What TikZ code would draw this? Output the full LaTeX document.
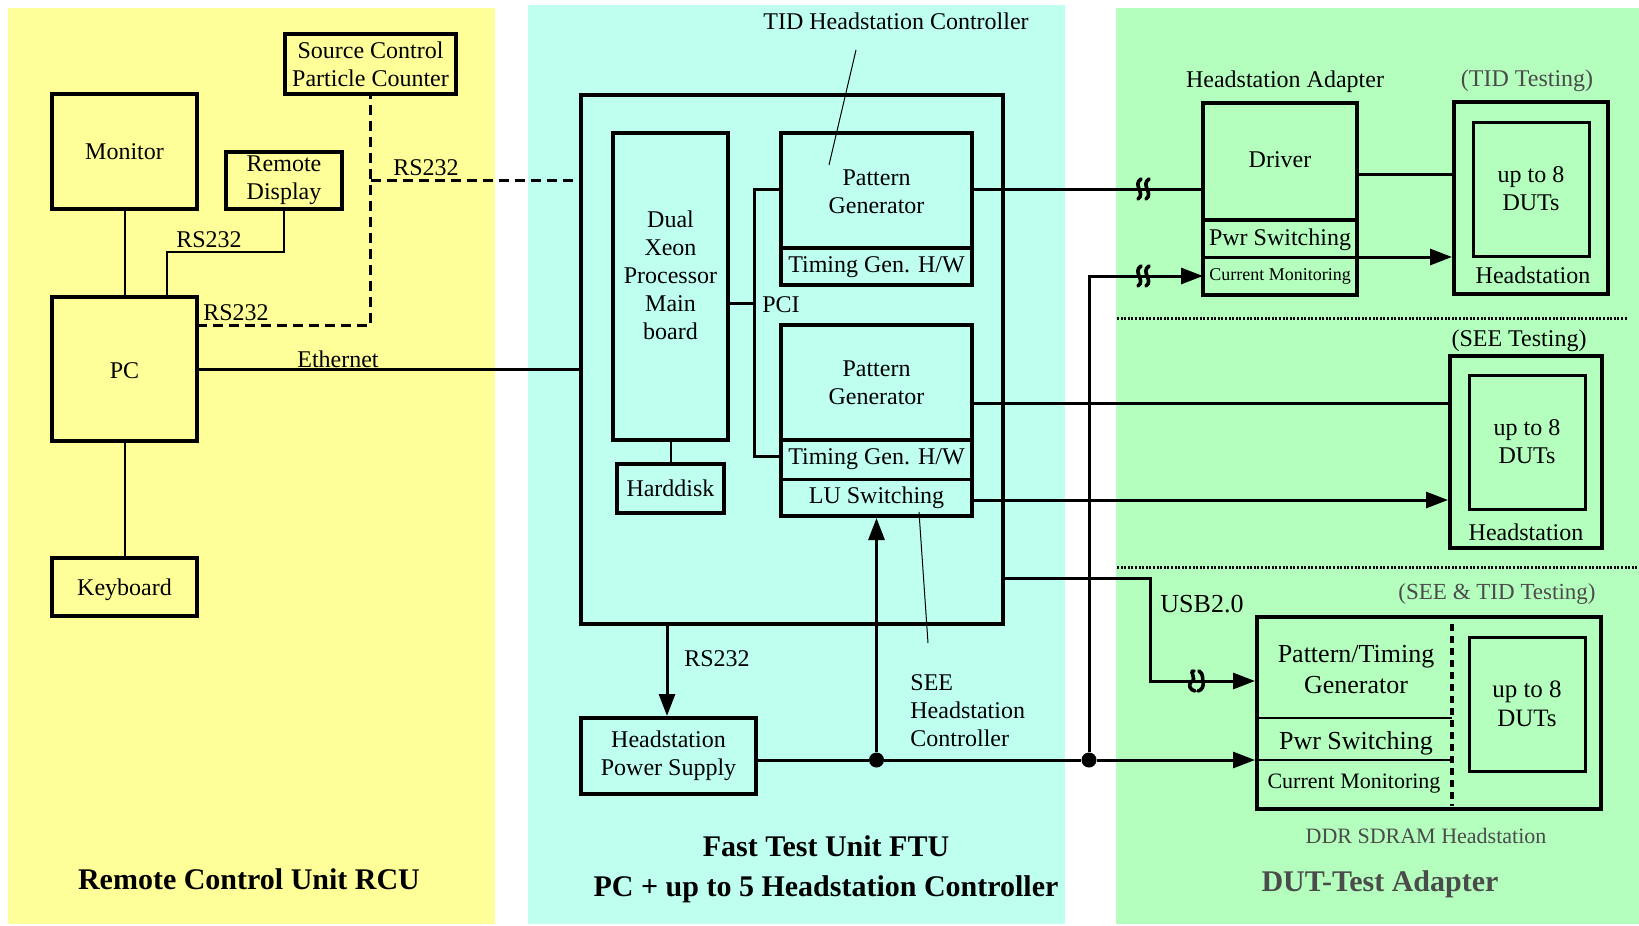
\documentclass[tikz,border=0pt]{standalone}
\usepackage{fontspec}
\setmainfont{Liberation Serif}
\usetikzlibrary{arrows.meta,fit}
\definecolor{rcuyellow}{RGB}{255,255,153}
\definecolor{ftucyan}{RGB}{190,255,240}
\definecolor{dutgreen}{RGB}{180,255,190}
\definecolor{graytext}{RGB}{75,75,75}
\tikzset{
  fs/.style args={#1/#2}{font=\fontsize{#1}{#2}\selectfont},
  blk/.style={draw, line width=2pt, inner sep=0pt},
  inbox/.style={draw, line width=1.5pt, inner sep=0pt},
  lbl/.style={inner sep=0pt, align=center, font=\fontsize{12}{14}\selectfont},
  title/.style={inner sep=0pt, align=center, font=\fontsize{15}{20}\selectfont\bfseries},
  wire/.style={line width=1.5pt},
  thinwire/.style={line width=1pt},
  leader/.style={line width=0.5pt},
  serial/.style={line width=1.5pt, dash pattern=on 5pt off 3pt},
  tip/.style={-{Triangle[length=11pt,width=8pt]}},
  junction/.style={circle, fill, inner sep=0pt, minimum size=7.5pt},
  sep/.style={line width=1.5pt, dash pattern=on 1pt off 0.8pt},
  brk/.pic={
    \draw[line width=1.8pt, line cap=round] (-2,-10) .. controls (-11,-4) and (3,4) .. (-5,10);
    \draw[line width=1.8pt, line cap=round] (6,-10) .. controls (-3,-4) and (11,4) .. (3,10);
  },
  usbbrk/.pic={
    \draw[line width=1.8pt, line cap=round] (-2,-10) .. controls (-8,-10) and (2,-2) .. (-5,1) .. controls (-8,4) and (-6,9) .. (-1,10);
    \draw[line width=1.8pt, line cap=round] (3,-10) .. controls (8,-7) and (6,-2) .. (7,1) .. controls (8,5) and (6,9) .. (2,10);
  }
}
\begin{document}
\begin{tikzpicture}[x=0.5pt,y=-0.5pt]
\fill[white] (0,0) rectangle (1639,926);
\useasboundingbox (0,0) rectangle (1639,926);

% background panels
\fill[rcuyellow] (8,8) rectangle (495,924);
\fill[ftucyan] (528,5) rectangle (1065,924);
\fill[dutgreen] (1116,8) rectangle (1639,924);

% ---------------- Remote Control Unit ----------------
\node[blk, fit={(285,34) (456,94)}] (src) {};
\node[lbl] (srct) at (src) {Source Control\\Particle Counter};
\node[blk, fit={(52,94) (197,209)}] (mon) {};
\node[lbl] (mont) at (mon) {Monitor};
\node[blk, fit={(226,152) (342,209)}] (rdisp) {};
\node[lbl] (rdispt) at (rdisp) {Remote\\Display};
\node[blk, fit={(52,297) (197,441)}] (pc) {};
\node[lbl] (pct) at (124.5,371) {PC};
\node[blk, fit={(52,558) (197,616)}] (kbd) {};
\node[lbl] (kbdt) at (124.5,590) {Keyboard};

\draw[thinwire] (mon) -- (pc);
\draw[thinwire] (pc) -- (kbd);
\coordinate (pcrd) at (167,297);
\draw[thinwire] (rdisp.south) -- (284,252) -- (167,252) -- (pcrd);
\node[lbl] (rs1) at (209,240) {RS232};

\coordinate (pcrs) at (197,325);
\draw[serial] (pcrs) -| (src.south);
\node[lbl] (rs2) at (236,313) {RS232};

\coordinate (ftuser) at (581,180);
\draw[serial] (src.south |- ftuser) -- (ftuser);
\node[lbl] (rs3) at (426,168) {RS232};

\coordinate (pceth) at (197,369);
\node[lbl] (ethl) at (338,359) {Ethernet};

\node[title] (rcut) at (249,879) {Remote Control Unit RCU};

% ---------------- Fast Test Unit ----------------
\node[blk, fit={(581,95) (1003,624)}] (ftu) {};
\draw[wire] (pceth) -- (ftu.west |- pceth);

\node[blk, fit={(613,133) (728,440)}] (xeon) {};
\node[lbl] (xeont) at (670.5,275) {Dual\\Xeon\\Processor\\Main\\board};
\node[blk, fit={(617,464) (724,513)}] (hdd) {};
\node[lbl] (hddt) at (hdd) {Harddisk};
\draw[thinwire] (xeon.south) -- (hdd.north);

% pattern generator 1 (TID)
\node[blk, fit={(781,133) (972,285)}] (pg1) {};
\draw[line width=2pt] (781,248) -- (972,248);
\node[lbl] (pg1t) at (876.5,192) {Pattern\\Generator};
\node[lbl] (tg1t) at (876.5,267) {Timing Gen. H/W};

% pattern generator 2 (SEE)
\node[blk, fit={(781,325) (972,516)}] (pg2) {};
\draw[line width=2pt] (781,440) -- (972,440);
\draw[line width=1.5pt] (781,479) -- (972,479);
\node[lbl] (pg2t) at (876.5,383) {Pattern\\Generator};
\node[lbl] (tg2t) at (876.5,459) {Timing Gen. H/W};
\node[lbl] (lut) at (876.5,498) {LU Switching};

% PCI bus
\coordinate (pcitop) at (754,189);
\coordinate (pcimid) at (754,303);
\coordinate (pcibot) at (754,456);
\draw[wire] (xeon.east |- pcimid) -- (pcimid);
\draw[wire] (pg1.west |- pcitop) -- (pcitop) -- (pcibot) -- (pg2.west |- pcibot);
\node[lbl] (pcil) at (781,305) {PCI};

% controller labels
\node[lbl] (tidl) at (896,21) {TID Headstation Controller};
\coordinate (tidl0) at (856,50);
\coordinate (tidl1) at (829,165);
\draw[leader] (tidl0) -- (tidl1);
\node[lbl, align=left, anchor=west] (seel) at (910,711) {SEE\\Headstation\\Controller};
\coordinate (seel0) at (919,512);
\coordinate (seel1) at (928,643);
\draw[leader] (seel0) -- (seel1);

% headstation power supply
\node[blk, fit={(581,718) (756,794)}] (hps) {};
\node[lbl] (hpst) at (hps) {Headstation\\Power Supply};
\coordinate (ftups) at (667,624);
\draw[wire, tip] (ftups) -- (hps.north -| ftups);
\node[lbl] (rs4) at (717,659) {RS232};

\node[title] (ftut) at (826,869) {Fast Test Unit FTU\\PC + up to 5 Headstation Controller};

% ---------------- DUT-Test Adapter ----------------
% TID branch
\node[lbl] (hadl) at (1285,82) {Headstation Adapter};
\node[blk, fit={(1203,103) (1357,295)}] (adp) {};
\draw[line width=2pt] (1203,220) -- (1357,220);
\draw[line width=1.5pt] (1203,257) -- (1357,257);
\node[lbl] (drvt) at (1280,160) {Driver};
\node[lbl] (pwr1t) at (1280,240) {Pwr Switching};
\node[lbl, fs=9/11] (cm1t) at (1280,276) {Current Monitoring};

\node[lbl, text=graytext] (tidtest) at (1527,81) {(TID Testing)};
\node[blk, fit={(1454,102) (1608,294)}] (tidhs) {};
\node[inbox, fit={(1473,122) (1589,256)}] (tidduts) {};
\node[lbl] (tiddt) at (tidduts) {up to 8\\DUTs};
\node[lbl] (tidhst) at (1533,275) {Headstation};

\coordinate (pg1out) at (972,189);
\draw[wire] (pg1out) -- (adp.west |- pg1out);
\pic at (1143,189) {brk};
\coordinate (drvout) at (1357,174);
\draw[wire] (drvout) -- (tidhs.west |- drvout);
\coordinate (pwrout) at (1357,257);
\draw[wire, tip] (pwrout) -- (tidhs.west |- pwrout);

\coordinate (sepa0) at (1117,318);
\coordinate (sepa1) at (1627,318);
\draw[sep] (sepa0) -- (sepa1);

% SEE branch
\node[lbl] (seetest) at (1519,341) {(SEE Testing)};
\node[blk, fit={(1450,356) (1602,548)}] (seehs) {};
\node[inbox, fit={(1469,375) (1585,509)}] (seeduts) {};
\node[lbl] (seedt) at (seeduts) {up to 8\\DUTs};
\node[lbl] (seehst) at (1526,532) {Headstation};

\coordinate (pg2out) at (972,403);
\draw[wire] (pg2out) -- (seehs.west |- pg2out);
\coordinate (luout) at (972,500);
\draw[wire, tip] (luout) -- (seehs.west |- luout);

\coordinate (sepb0) at (1117,567);
\coordinate (sepb1) at (1639,567);
\draw[sep] (sepb0) -- (sepb1);

% DDR SDRAM branch
\node[lbl, fs=11.5/13.5, text=graytext] (ddrtest) at (1497,594) {(SEE \& TID Testing)};
\node[blk, fit={(1257,617) (1601,809)}] (ddr) {};
\draw[line width=1pt] (1257,718) -- (1452,718);
\draw[line width=1pt] (1257,760) -- (1452,760);
\draw[line width=2.2pt, dash pattern=on 3.5pt off 2.5pt] (1452,624) -- (1452,806);
\node[inbox, fit={(1469,637) (1585,771)}] (ddrduts) {};
\node[lbl, fs=12.5/14.5] (ddrdt) at (ddrduts) {up to 8\\DUTs};
\node[lbl, fs=13/15.5] (ptgt) at (1356,670) {Pattern/Timing\\Generator};
\node[lbl, fs=13/15.5] (pwr2t) at (1356,743) {Pwr Switching};
\node[lbl, fs=11/13] (cm2t) at (1354,784) {Current Monitoring};
\node[lbl, fs=11/13, text=graytext] (ddrl) at (1426,836) {DDR SDRAM Headstation};

% USB link
\coordinate (ftuusb) at (1003,578);
\coordinate (usbbend) at (1150,681);
\draw[wire, tip] (ftuusb) -| (usbbend) -- (ddr.west |- usbbend);
\pic at (1196,681) {usbbrk};
\node[lbl, fs=13/15.5] (usbl) at (1202,604) {USB2.0};

% power bus
\coordinate (hpsout) at (756,760);
\node[junction] (j1) at (876.5,760) {};
\node[junction] (j2) at (1089,760) {};
\draw[wire] (hpsout) -- (j1) -- (j2);
\draw[wire, tip] (j2) -- (ddr.west |- j2);
\draw[wire, tip] (j1) -- (pg2.south);
\coordinate (cmin) at (1203,276);
\draw[wire, tip] (j2) |- (cmin);
\pic at (1143,276) {brk};

\node[title, text=graytext] (dutt) at (1380,884) {DUT-Test Adapter};
\end{tikzpicture}
\end{document}
